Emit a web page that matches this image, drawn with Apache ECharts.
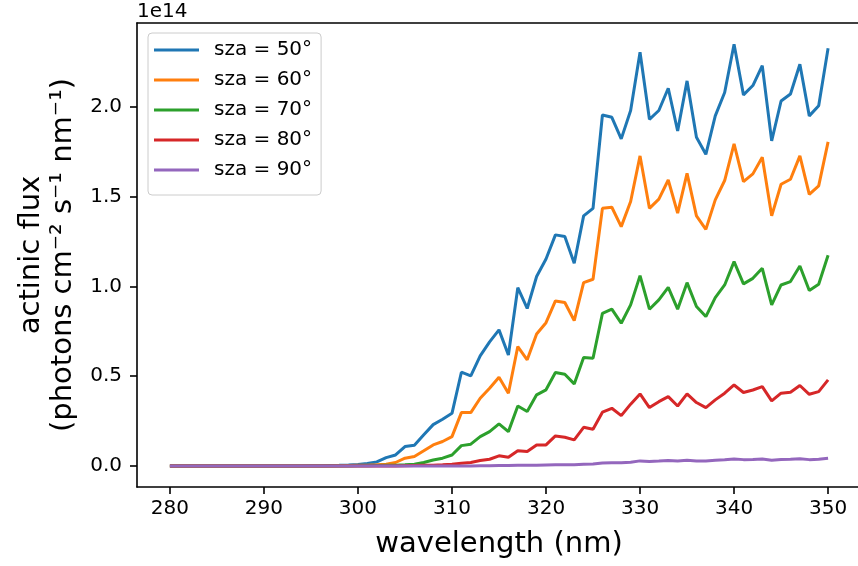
<!DOCTYPE html>
<html>
<head>
<meta charset="utf-8">
<script src="https://cdn.jsdelivr.net/npm/echarts@6/dist/echarts.min.js"></script>
<style>
  html, body { margin: 0; padding: 0; background: #fff; }
  #chart { width: 858px; height: 566px; }
</style>
</head>
<body>
<div id="chart"></div>
<script>
// wavelength (nm)
var wavelength = [
  280, 281, 282, 283, 284, 285, 286, 287, 288, 289,
  290, 291, 292, 293, 294, 295, 296, 297, 298, 299,
  300, 301, 302, 303, 304, 305, 306, 307, 308, 309,
  310, 311, 312, 313, 314, 315, 316, 317, 318, 319,
  320, 321, 322, 323, 324, 325, 326, 327, 328, 329,
  330, 331, 332, 333, 334, 335, 336, 337, 338, 339,
  340, 341, 342, 343, 344, 345, 346, 347, 348, 349,
  350
];

// actinic flux, in units of 1e14 photons cm-2 s-1 nm-1
var sza50 = [
  0, 0, 0, 0, 0, 0, 0, 0, 0, 0,
  0, 0, 0, 0, 0, 0.0005, 0.001, 0.002, 0.003, 0.005,
  0.008, 0.013, 0.022, 0.046, 0.061, 0.108, 0.115, 0.173, 0.230, 0.260,
  0.293, 0.522, 0.501, 0.613, 0.691, 0.758, 0.618, 0.993, 0.877, 1.055,
  1.153, 1.287, 1.278, 1.129, 1.393, 1.435, 1.955, 1.942, 1.822, 1.980,
  2.305, 1.931, 1.980, 2.104, 1.866, 2.145, 1.831, 1.736, 1.950, 2.080,
  2.349, 2.067, 2.119, 2.230, 1.811, 2.033, 2.072, 2.238, 1.950, 2.007,
  2.327
];
var sza60 = [
  0, 0, 0, 0, 0, 0, 0, 0, 0, 0,
  0, 0, 0, 0, 0, 0, 0, 0, 0.001, 0.002,
  0.003, 0.004, 0.006, 0.009, 0.019, 0.043, 0.052, 0.084, 0.117, 0.136,
  0.163, 0.297, 0.297, 0.377, 0.433, 0.494, 0.405, 0.665, 0.591, 0.735,
  0.798, 0.919, 0.910, 0.810, 1.021, 1.040, 1.435, 1.441, 1.333, 1.473,
  1.727, 1.435, 1.486, 1.593, 1.408, 1.630, 1.393, 1.318, 1.482, 1.590,
  1.794, 1.584, 1.627, 1.720, 1.393, 1.569, 1.597, 1.727, 1.513, 1.560,
  1.805
];
var sza70 = [
  0, 0, 0, 0, 0, 0, 0, 0, 0, 0,
  0, 0, 0, 0, 0, 0, 0, 0, 0, 0,
  0.0005, 0.001, 0.002, 0.003, 0.004, 0.006, 0.009, 0.019, 0.033, 0.043,
  0.061, 0.113, 0.121, 0.163, 0.191, 0.234, 0.191, 0.334, 0.303, 0.396,
  0.424, 0.520, 0.511, 0.457, 0.604, 0.600, 0.850, 0.873, 0.795, 0.897,
  1.060, 0.873, 0.925, 0.995, 0.873, 1.021, 0.888, 0.832, 0.938, 1.008,
  1.138, 1.014, 1.045, 1.101, 0.897, 1.008, 1.027, 1.114, 0.977, 1.012,
  1.174
];
var sza80 = [
  0, 0, 0, 0, 0, 0, 0, 0, 0, 0,
  0, 0, 0, 0, 0, 0, 0, 0, 0, 0,
  0, 0, 0, 0, 0, 0.001, 0.002, 0.003, 0.004, 0.006,
  0.009, 0.015, 0.019, 0.030, 0.037, 0.056, 0.048, 0.085, 0.080, 0.117,
  0.117, 0.167, 0.160, 0.145, 0.215, 0.204, 0.299, 0.321, 0.280, 0.344,
  0.401, 0.325, 0.358, 0.386, 0.334, 0.401, 0.353, 0.325, 0.368, 0.405,
  0.451, 0.409, 0.423, 0.442, 0.362, 0.405, 0.410, 0.448, 0.399, 0.414,
  0.479
];
var sza90 = [
  0, 0, 0, 0, 0, 0, 0, 0, 0, 0,
  0, 0, 0, 0, 0, 0, 0, 0, 0, 0,
  0, 0, 0, 0, 0, 0, 0, 0, 0, 0,
  0, 0, 0, 0.001, 0.001, 0.002, 0.002, 0.003, 0.003, 0.004,
  0.005, 0.006, 0.006, 0.006, 0.009, 0.010, 0.016, 0.018, 0.017, 0.020,
  0.028, 0.025, 0.027, 0.030, 0.027, 0.031, 0.028, 0.027, 0.031, 0.034,
  0.039, 0.035, 0.036, 0.039, 0.032, 0.036, 0.037, 0.040, 0.035, 0.037,
  0.043
];

var seriesNames = ["sza = 50°", "sza = 60°", "sza = 70°", "sza = 80°", "sza = 90°"];
var seriesValues = [sza50, sza60, sza70, sza80, sza90];
var colors = ["#1f77b4", "#ff7f0e", "#2ca02c", "#d62728", "#9467bd"];

var xTicks = [280, 290, 300, 310, 320, 330, 340, 350];
var yTicks = [0, 0.5, 1.0, 1.5, 2.0];

var font = "DejaVu Sans";

var series = [];
for (var s = 0; s < seriesNames.length; s++) {
  series.push({
    name: seriesNames[s],
    type: "line",
    data: wavelength.map(function (w, i) { return [w, seriesValues[s][i]]; }),
    showSymbol: false,
    symbol: "none",
    lineStyle: { color: colors[s], width: 3 },
    itemStyle: { color: colors[s] },
    animation: false
  });
}

var chart = echarts.init(document.getElementById("chart"), null, { renderer: "canvas" });
chart.setOption({
  animation: false,
  backgroundColor: "#ffffff",
  textStyle: { fontFamily: font },
  grid: {
    left: 137,
    top: 23,
    width: 724,
    height: 464,
    containLabel: false,
    outerBoundsMode: "none",
    show: false
  },
  legend: {
    orient: "vertical",
    left: 148,
    top: 33,
    padding: [7, 9, 15, 6],
    itemGap: 10,
    itemWidth: 45,
    itemHeight: 3,
    icon: "rect",
    backgroundColor: "rgba(255,255,255,0.8)",
    borderColor: "#cccccc",
    borderWidth: 1,
    borderRadius: 4,
    textStyle: { fontFamily: font, fontSize: 20, color: "#000", padding: [0, 0, 0, 10] },
    data: seriesNames
  },
  xAxis: [
    {
      type: "value",
      min: 276.5,
      max: 353.5,
      name: "wavelength (nm)",
      nameLocation: "middle",
      nameGap: 43,
      nameTextStyle: { fontFamily: font, fontSize: 29, color: "#000" },
      axisLine: { show: true, onZero: false, lineStyle: { color: "#000", width: 1.6 } },
      axisTick: { show: true, length: 7, customValues: xTicks, lineStyle: { color: "#000", width: 1.6 } },
      axisLabel: { customValues: xTicks, fontSize: 20, color: "#000", margin: 12, fontFamily: font },
      splitLine: { show: false }
    },
    {
      // top spine only
      type: "value",
      position: "top",
      min: 276.5,
      max: 353.5,
      axisLine: { show: true, onZero: false, lineStyle: { color: "#000", width: 1.6 } },
      axisTick: { show: false },
      axisLabel: { show: false },
      splitLine: { show: false }
    }
  ],
  yAxis: {
    type: "value",
    min: -0.1175,
    max: 2.4675,
    name: "actinic flux\n(photons cm⁻² s⁻¹ nm⁻¹)",
    nameLocation: "middle",
    nameRotate: 90,
    nameGap: 56,
    nameTextStyle: { fontFamily: font, fontSize: 29, color: "#000", lineHeight: 32 },
    axisLine: { show: true, onZero: false, lineStyle: { color: "#000", width: 1.6 } },
    axisTick: { show: true, length: 7, customValues: yTicks, lineStyle: { color: "#000", width: 1.6 } },
    axisLabel: {
      customValues: yTicks, fontSize: 20, color: "#000", margin: 15, fontFamily: font,
      formatter: function (v) { return v.toFixed(1); }
    },
    splitLine: { show: false }
  },
  graphic: [
    {
      type: "text",
      left: 137,
      top: 2,
      style: { text: "1e14", fontFamily: font, fontSize: 20, fill: "#000" }
    }
  ],
  series: series
});
</script>
</body>
</html>
